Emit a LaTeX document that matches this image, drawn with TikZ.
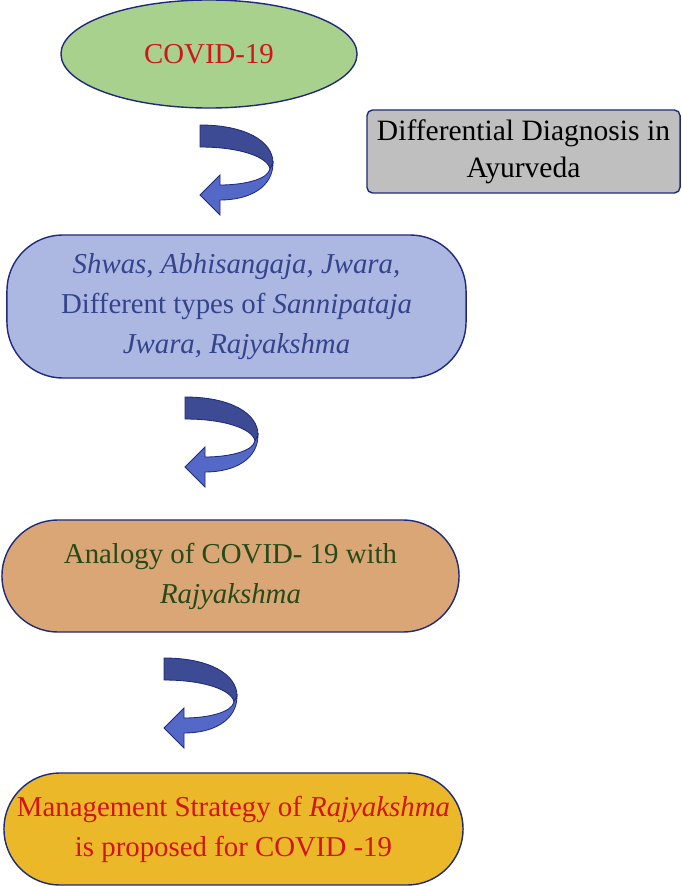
\documentclass[tikz,border=0pt]{standalone}
\usepackage{fontspec}
\setmainfont{Liberation Serif}
\usepackage{xcolor}
\usepackage{tikz}
\usetikzlibrary{positioning,shapes.geometric}
\definecolor{navy}{HTML}{1F2A7A}
\definecolor{covidgreen}{HTML}{A9D18E}
\definecolor{notegray}{HTML}{BFBFBF}
\definecolor{periwinkle}{HTML}{ADB8E2}
\definecolor{bluetext}{HTML}{34448C}
\definecolor{tan}{HTML}{DBA676}
\definecolor{greentext}{HTML}{264A18}
\definecolor{gold}{HTML}{EAB829}
\definecolor{redtext}{HTML}{D3141A}
\definecolor{arrowdark}{HTML}{3C4B94}
\definecolor{arrowlight}{HTML}{5468C8}
\tikzset{
  bigtext/.style={font=\fontsize{20.5}{28.4}\selectfont},
  ovalbox/.style={draw=navy, ellipse, line width=1pt, inner sep=0pt, align=center, bigtext},
  pillbox/.style={draw=navy, rectangle, line width=1pt, inner sep=0pt, align=center, bigtext},
  notebox/.style={draw=navy, rectangle, rounded corners=4pt, line width=1pt, inner sep=0pt, align=center, fill=notegray, font=\fontsize{21}{26.3}\selectfont},
  bendarrow/.pic={
    \path[fill=arrowdark, draw=navy, line width=0.6pt] (0,0) .. controls (45,0) and (73,16) .. (73,38)
      -- (70,44) .. controls (68,32) and (40,22) .. (0,22) -- cycle;
    \path[fill=arrowlight, draw=navy, line width=0.6pt] (73,38) .. controls (73,62) and (50,75) .. (20,75)
      -- (20,90) -- (0,70) -- (20,50) -- (20,60) .. controls (45,60) and (68,54) .. (70,44) -- cycle;
  }
}
\begin{document}
\begin{tikzpicture}[x=0.025cm, y=-0.025cm]
  \useasboundingbox (0,0) rectangle (682,886);

  \node[ovalbox, fill=covidgreen, text=redtext, minimum width=7.4cm, minimum height=2.7cm] (covid) at (209,54) {COVID-19};
  \node[notebox, minimum width=7.825cm, minimum height=2.075cm] (ddx) at (523.5,151.5) {Differential Diagnosis in\\ Ayurveda};
  \node[pillbox, fill=periwinkle, text=bluetext, rounded corners=1.4cm, minimum width=11.475cm, minimum height=3.575cm] (symptoms) at (236.5,306.5)
    {\textit{Shwas}, \textit{Abhisangaja, Jwara,}\\ Different types of \textit{Sannipataja}\\ \textit{Jwara, Rajyakshma}};
  \node[pillbox, fill=tan, text=greentext, rounded corners=1.4cm, minimum width=11.425cm, minimum height=2.8cm] (analogy) at (230.5,576)
    {Analogy of COVID- 19 with\\ \textit{Rajyakshma}};
  \node[pillbox, fill=gold, text=redtext, rounded corners=1.4cm, minimum width=11.475cm, minimum height=2.8cm] (strategy) at (233.5,829)
    {Management Strategy of \textit{Rajyakshma}\\ is proposed for COVID -19};

  % curved block arrows between the steps
  \pic (turnA) at (200,125) {bendarrow};
  \pic (turnB) at (185,397) {bendarrow};
  \pic (turnC) at (164,658) {bendarrow};
\end{tikzpicture}
\end{document}
